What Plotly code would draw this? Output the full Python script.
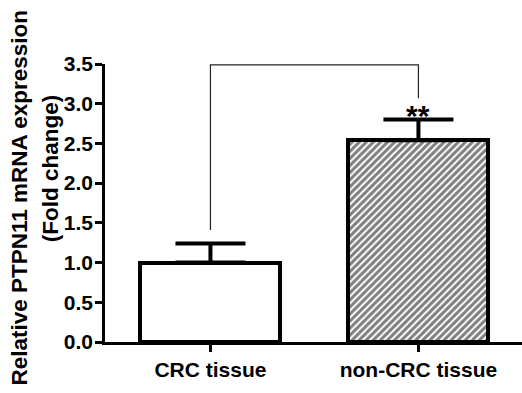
import plotly.graph_objects as go

categories = ["CRC tissue", "non-CRC tissue"]
means = [1.0, 2.54]
errors = [0.24, 0.26]
bracket_x = [0, 0, 1, 1]
bracket_y = [1.41, 3.49, 3.49, 3.07]
sig_label = "**"
y_ticks = [0, 0.5, 1.0, 1.5, 2.0, 2.5, 3.0, 3.5]
title_lines = ["Relative PTPN11 mRNA expression", "(Fold change)"]

fig = go.Figure()
fig.add_trace(go.Bar(
    x=[0, 1], y=means, width=0.673,
    marker=dict(color="white", line=dict(color="black", width=4),
                pattern=dict(shape=["", "/"], fgcolor="black", bgcolor="white",
                             size=5, solidity=0.6)),
    error_y=dict(type="data", array=errors, symmetric=False, arrayminus=[0, 0],
                 color="black", thickness=4, width=35),
    showlegend=False, hoverinfo="skip",
))
fig.add_trace(go.Scatter(x=bracket_x, y=bracket_y, mode="lines",
                         line=dict(color="#222", width=1.2), showlegend=False,
                         hoverinfo="skip"))
fig.add_annotation(x=1, y=means[1] + errors[1], text="<b>%s</b>" % sig_label, showarrow=False,
                   yanchor="bottom", yshift=-14,
                   font=dict(family="Liberation Sans", size=30, color="black"))

# y-axis title as two rotated lines
fig.add_annotation(xref="paper", yref="paper", x=0, y=0.518, xshift=-85.5,
                   text="<b>%s</b>" % title_lines[0], textangle=-90, showarrow=False,
                   xanchor="center", yanchor="middle",
                   font=dict(family="Liberation Sans", size=22.5, color="black"))
fig.add_annotation(xref="paper", yref="paper", x=0, y=0.625, xshift=-55,
                   text="<b>%s</b>" % title_lines[1], textangle=-90, showarrow=False,
                   xanchor="center", yanchor="middle",
                   font=dict(family="Liberation Sans", size=22.5, color="black"))

fig.update_layout(
    width=522, height=393,
    margin=dict(l=105, r=0, t=64, b=51),
    paper_bgcolor="white", plot_bgcolor="white",
    font=dict(family="Liberation Sans", color="black"),
    bargap=0, hovermode=False,
)
fig.update_xaxes(range=[-0.507, 1.498], tickvals=[0, 1], ticktext=["<b>%s</b>" % c for c in categories],
                 showline=True, linecolor="black", linewidth=2.5, ticks="outside",
                 ticklen=7, tickwidth=2.5, tickcolor="black", showgrid=False, zeroline=False,
                 tickfont=dict(size=21, family="Liberation Sans"))
fig.update_yaxes(range=[0, 3.5], tickvals=y_ticks, ticktext=["<b>%.1f</b>" % v for v in y_ticks],
                 showline=True, linecolor="black", linewidth=2.5, ticks="outside",
                 ticklen=7, tickwidth=2.5, tickcolor="black", showgrid=False, zeroline=False,
                 ticklabelstandoff=-2,
                 tickfont=dict(size=21, family="Liberation Sans"))
fig.write_html("out.html", config={"displayModeBar": False},
               post_script="document.body.style.margin='0';")
